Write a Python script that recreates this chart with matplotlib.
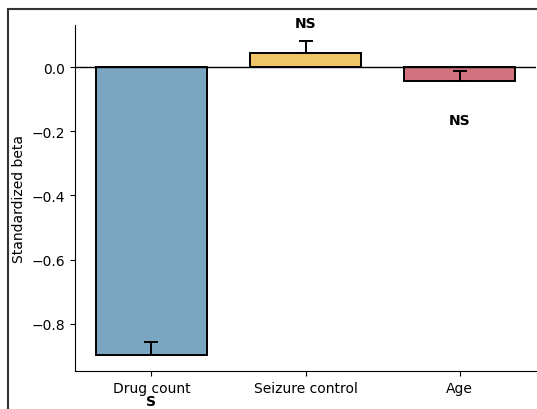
import matplotlib
matplotlib.use("Agg")
import matplotlib.pyplot as plt
from matplotlib.lines import Line2D

# values
predictors = ["Drug count", "Seizure control", "Age"]
betas = [-0.898, 0.044, -0.042]
err_up = [0.040, 0.038, 0.030]
sig_labels = ["S", "NS", "NS"]
sig_y = [-1.040, 0.137, -0.164]
colors = ["#7aa6c2", "#f0c566", "#d1737e"]


def main():
    fig = plt.figure(figsize=(5.37, 4.10), dpi=100)
    ax = fig.add_axes([75 / 537, 38 / 410, 461 / 537, 346 / 410])

    x = range(len(predictors))
    ax.bar(x, betas, width=0.72, color=colors, edgecolor="black", linewidth=1.4,
           yerr=[[0] * len(err_up), err_up],
           error_kw=dict(ecolor="black", elinewidth=1.4, capsize=5, capthick=1.4))
    ax.axhline(0, color="black", linewidth=1)

    ax.set_xticks(list(x))
    ax.set_xticklabels(predictors, fontsize=10)
    ax.tick_params(axis="y", labelsize=10)
    ax.set_ylabel("Standardized beta", fontsize=10)
    ax.spines["top"].set_visible(False)
    ax.spines["right"].set_visible(False)

    for i, lab in enumerate(sig_labels):
        ax.text(i, sig_y[i], lab, ha="center", va="center", fontsize=10,
                fontweight="bold", clip_on=False)

    # frame of the original figure (only top and left edges in view)
    fx, fy = 8 / 537, 400 / 410
    fig.lines.append(Line2D([fx, 1.0], [fy, fy], transform=fig.transFigure,
                            color="#333333", linewidth=1.5))
    fig.lines.append(Line2D([fx, fx], [0.0, fy], transform=fig.transFigure,
                            color="#333333", linewidth=1.5))

    fig.savefig("out.png", dpi=100)


if __name__ == "__main__":
    main()
